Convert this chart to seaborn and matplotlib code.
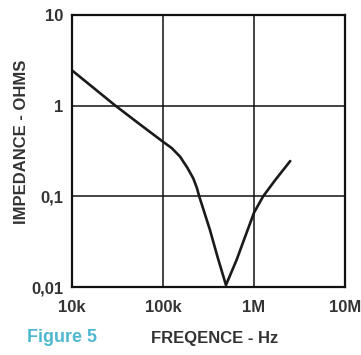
import matplotlib
matplotlib.use("Agg")
import matplotlib.pyplot as plt
import seaborn as sns
import pandas as pd

# ==========================
# DATA
# ==========================
freq_hz = [10e3, 30e3, 56e3, 100e3, 125e3, 154e3, 185e3, 215e3, 235e3, 250e3,
           328e3, 400e3, 492e3, 645e3, 800e3, 1.0e6, 1.26e6, 1.7e6, 2.5e6]
impedance_ohm = [2.45, 1.0, 0.62, 0.40, 0.34, 0.274, 0.207, 0.158, 0.125, 0.1,
                 0.0426, 0.021, 0.0105, 0.02, 0.036, 0.066, 0.1, 0.15, 0.245]

x_ticks = [1e4, 1e5, 1e6, 1e7]
x_tick_labels = ["10k", "100k", "1M", "10M"]
y_ticks = [0.01, 0.1, 1, 10]
y_tick_labels = ["0,01", "0,1", "1", "10"]

df = pd.DataFrame({"freq": freq_hz, "imp": impedance_ohm})

# ==========================
# PLOT
# ==========================
sns.set_style("white")
plt.rcParams["font.family"] = ["Liberation Sans", "DejaVu Sans"]

fig = plt.figure(figsize=(3.61, 3.55), dpi=100)
ax = fig.add_axes([72 / 361, 68 / 355, 273 / 361, 272 / 355])

sns.lineplot(data=df, x="freq", y="imp", ax=ax, color="#1a1a1a", linewidth=1.9)

ax.set_xscale("log")
ax.set_yscale("log")
ax.set_xlim(1e4, 1e7)
ax.set_ylim(0.01, 10)

ax.set_xticks(x_ticks)
ax.set_xticklabels(x_tick_labels)
ax.set_yticks(y_ticks)
ax.set_yticklabels(y_tick_labels)
ax.minorticks_off()
ax.tick_params(length=0, labelsize=12, colors="#333333")
for lbl in ax.get_xticklabels() + ax.get_yticklabels():
    lbl.set_fontweight("bold")
ax.tick_params(axis="x", pad=9)
ax.tick_params(axis="y", pad=6)

ax.grid(True, color="#111111", linewidth=1.1)
for s in ax.spines.values():
    s.set_color("#111111")
    s.set_linewidth(1.6)

ax.set_xlabel("")
ax.set_ylabel("IMPEDANCE - OHMS", fontsize=12, fontweight="bold", color="#333333")
ax.yaxis.set_label_coords(-0.158, 0.535)

fig.text(151 / 361, 1 - 338 / 355, "FREQENCE - Hz", fontsize=12, fontweight="bold",
         color="#333333", va="center", ha="left")
fig.text(27 / 361, 1 - 338 / 355, "Figure 5", fontsize=13, fontweight="bold",
         color="#4db8cf", va="center", ha="left")

fig.savefig("out.png", dpi=100)
